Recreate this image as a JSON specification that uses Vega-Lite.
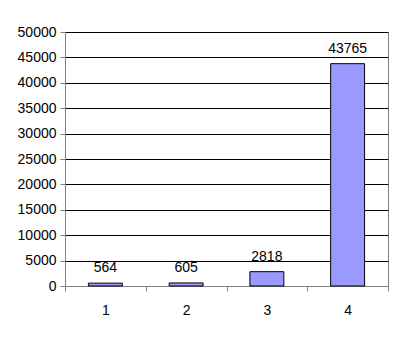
{
  "$schema": "https://vega.github.io/schema/vega-lite/v6.json",
  "width": 323,
  "height": 254,
  "autosize": "none",
  "padding": {"left": 65, "top": 32, "right": 15, "bottom": 55},
  "background": "white",
  "config": {
    "view": {"stroke": "#808080", "strokeWidth": 1},
    "font": "Liberation Sans",
    "axis": {
      "labelFont": "Liberation Sans",
      "labelFontSize": 14,
      "labelColor": "black",
      "domainColor": "#808080",
      "tickColor": "#808080",
      "tickSize": 5,
      "labelOverlap": false
    }
  },
  "data": {
    "values": [
      {"category": "1", "value": 564},
      {"category": "2", "value": 605},
      {"category": "3", "value": 2818},
      {"category": "4", "value": 43765}
    ]
  },
  "encoding": {
    "x": {
      "field": "category",
      "type": "ordinal",
      "scale": {"paddingInner": 0, "paddingOuter": 0},
      "axis": {"title": null, "labelAngle": 0, "tickBand": "extent", "labelPadding": 12, "grid": false}
    },
    "y": {
      "field": "value",
      "type": "quantitative",
      "scale": {"domain": [0, 50000], "nice": false},
      "axis": {
        "title": null,
        "values": [0, 5000, 10000, 15000, 20000, 25000, 30000, 35000, 40000, 45000, 50000],
        "format": "d",
        "labelOverlap": false,
        "grid": true,
        "gridColor": "black",
        "gridOpacity": 1,
        "gridWidth": 1,
        "labelPadding": 4
      }
    }
  },
  "layer": [
    {
      "mark": {"type": "bar", "fill": "#9999FF", "stroke": "black", "strokeWidth": 1, "width": {"band": 0.42}}
    },
    {
      "mark": {"type": "text", "baseline": "bottom", "dy": -8, "fontSize": 14, "font": "Liberation Sans", "color": "black"},
      "encoding": {
        "text": {"field": "value", "type": "quantitative", "format": "d"}
      }
    }
  ]
}
